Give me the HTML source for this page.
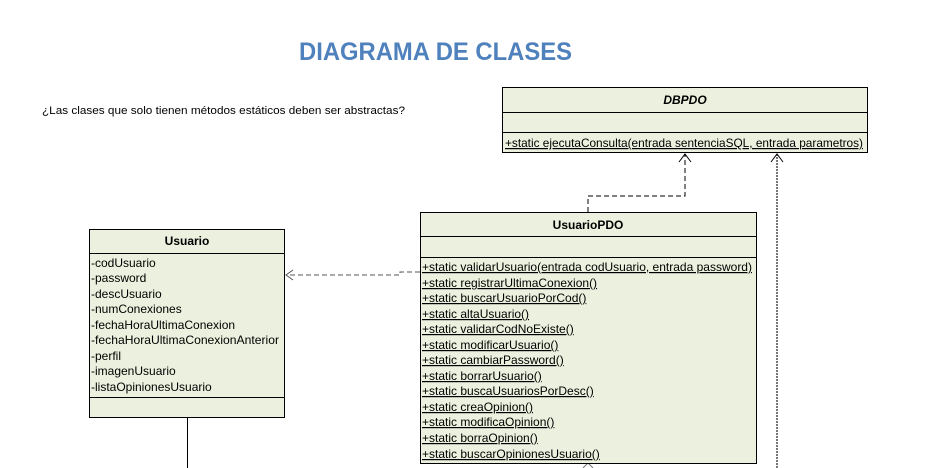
<!DOCTYPE html>
<html><head><meta charset="utf-8"><style>
html,body{margin:0;padding:0;background:#fff;}
svg{display:block;}
text{font-family:"Liberation Sans",sans-serif;fill:#000;}
.m{font-size:12px;text-decoration:underline;}
.a{font-size:12px;}
</style></head><body>
<svg width="929" height="468" viewBox="0 0 929 468">
<text x="299" y="60" style="font-size:25px;font-weight:bold;fill:#4f81bd" textLength="273" lengthAdjust="spacingAndGlyphs">DIAGRAMA DE CLASES</text>
<text x="42" y="114" style="font-size:11px" textLength="363" lengthAdjust="spacingAndGlyphs">¿Las clases que solo tienen métodos estáticos deben ser abstractas?</text>

<!-- DBPDO -->
<rect x="502.5" y="87.5" width="365" height="65" fill="#ebf1de" stroke="#000"/>
<line x1="502" y1="112.5" x2="868" y2="112.5" stroke="#000"/>
<line x1="502" y1="132.5" x2="868" y2="132.5" stroke="#000"/>
<text x="685" y="104" text-anchor="middle" style="font-size:12px;font-style:italic;font-weight:bold">DBPDO</text>
<text x="505" y="147" class="m" textLength="358" lengthAdjust="spacingAndGlyphs">+static ejecutaConsulta(entrada sentenciaSQL, entrada parametros)</text>

<!-- connectors -->
<polyline points="588,212 588,196 685,196 685,154" fill="none" stroke="#000" stroke-dasharray="5,3"/>
<polyline points="679,162 685,154 691,162" fill="none" stroke="#000"/>
<line x1="777" y1="154" x2="777" y2="468" stroke="#777" stroke-width="2" stroke-dasharray="2,1"/>
<polyline points="771,162 777,154 783,162" fill="none" stroke="#000"/>
<polyline points="420,272 400,272 400,275 286,275" fill="none" stroke="#555" stroke-dasharray="5,3"/>
<polyline points="293,270 286,275 293,280" fill="none" stroke="#555"/>
<line x1="187.5" y1="418" x2="187.5" y2="468" stroke="#000"/>
<polyline points="583,468 588,463 593,468" fill="none" stroke="#777"/>

<!-- Usuario -->
<rect x="89.5" y="229.5" width="195" height="188" fill="#ebf1de" stroke="#000"/>
<line x1="89" y1="253.5" x2="285" y2="253.5" stroke="#000"/>
<line x1="89" y1="397.5" x2="285" y2="397.5" stroke="#000"/>
<text x="187" y="245" text-anchor="middle" style="font-size:12px;font-weight:bold">Usuario</text>
<text x="91" y="267" class="a">-codUsuario</text>
<text x="91" y="282" class="a">-password</text>
<text x="91" y="298" class="a">-descUsuario</text>
<text x="91" y="313" class="a">-numConexiones</text>
<text x="91" y="329" class="a">-fechaHoraUltimaConexion</text>
<text x="91" y="344" class="a" textLength="188" lengthAdjust="spacingAndGlyphs">-fechaHoraUltimaConexionAnterior</text>
<text x="91" y="360" class="a">-perfil</text>
<text x="91" y="375" class="a">-imagenUsuario</text>
<text x="91" y="391" class="a">-listaOpinionesUsuario</text>

<!-- UsuarioPDO -->
<rect x="420.5" y="212.5" width="336" height="251" fill="#ebf1de" stroke="#000"/>
<line x1="420" y1="236.5" x2="757" y2="236.5" stroke="#000"/>
<line x1="420" y1="257.5" x2="757" y2="257.5" stroke="#000"/>
<text x="588" y="229" text-anchor="middle" style="font-size:12px;font-weight:bold">UsuarioPDO</text>
<text x="422" y="271" class="m" textLength="330" lengthAdjust="spacingAndGlyphs">+static validarUsuario(entrada codUsuario, entrada password)</text>
<text x="422" y="287" class="m">+static registrarUltimaConexion()</text>
<text x="422" y="302" class="m">+static buscarUsuarioPorCod()</text>
<text x="422" y="318" class="m">+static altaUsuario()</text>
<text x="422" y="333" class="m">+static validarCodNoExiste()</text>
<text x="422" y="349" class="m">+static modificarUsuario()</text>
<text x="422" y="364" class="m">+static cambiarPassword()</text>
<text x="422" y="380" class="m">+static borrarUsuario()</text>
<text x="422" y="395" class="m">+static buscaUsuariosPorDesc()</text>
<text x="422" y="411" class="m">+static creaOpinion()</text>
<text x="422" y="426" class="m">+static modificaOpinion()</text>
<text x="422" y="442" class="m">+static borraOpinion()</text>
<text x="422" y="458" class="m">+static buscarOpinionesUsuario()</text>
</svg>
</body></html>
